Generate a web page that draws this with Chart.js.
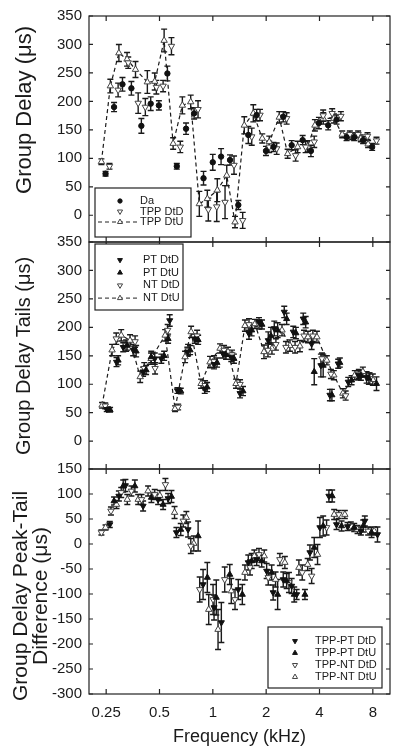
<!DOCTYPE html>
<html lang="en">
<head>
  <meta charset="UTF-8">
  <title>Group Delay</title>
  <script src="https://cdn.jsdelivr.net/npm/chart.js"></script>
  <style>
    body { margin: 0; background: #fff; }
    #wrap { position: relative; width: 400px; height: 756px; }
    #wrap canvas { position: absolute; left: 0; top: 0; }
  </style>
</head>
<body>
  <div id="wrap">
    <canvas id="c1" width="400" height="756"></canvas>
    <canvas id="c2" width="400" height="756"></canvas>
    <canvas id="c3" width="400" height="756"></canvas>
  </div>
  <script>
    // frequency ticks (kHz) and y ticks
    const freqTicks = [0.25, 0.5, 1, 2, 4, 8];
    const p1Ticks = [0, 50, 100, 150, 200, 250, 300, 350];
    const p2Ticks = [0, 50, 100, 150, 200, 250, 300, 350];
    const p3Ticks = [-300, -250, -200, -150, -100, -50, 0, 50, 100, 150];

    // panel 1: group delay
    const p1DaFreq = [0.248,0.277,0.309,0.347,0.395,0.446,0.496,0.554,0.626,0.706,0.784,0.886,0.999,1.113,1.25,1.393,1.586,1.768,1.995,2.2,2.497,2.786,3.213,3.578,3.97,4.478,4.995,5.687,6.275,7.05,7.93];
    const p1DaVal = [73,190,230,223,157,196,193,249,86,152,179,65,93,103,97,18,141,176,113,120,173,123,132,113,162,158,168,137,137,132,120];
    const p1DaErr = [4,8,12,12,13,12,8,13,5,10,10,12,14,14,9,8,15,10,8,8,9,8,8,10,10,8,8,6,6,6,6];

    const p1DtdFreq = [0.261,0.292,0.333,0.379,0.416,0.480,0.524,0.584,0.655,0.825,0.943,1.052,1.172,1.317,1.474,1.658,1.846,2.08,2.293,2.61,2.933,3.34,3.735,4.196,4.717,5.282,5.935,6.609,7.467,8.39];
    const p1DtdVal = [86,220,268,197,190,225,227,297,120,186,10,15,23,88,-9,138,176,120,117,170,105,120,129,175,179,174,142,142,139,131];
    const p1DtdErr = [5,12,10,18,15,12,10,15,10,15,20,26,29,16,14,15,10,10,10,10,10,10,10,10,8,8,6,6,6,6];

    const p1DtuFreq = [0.235,0.264,0.295,0.328,0.366,0.427,0.470,0.531,0.597,0.673,0.750,0.839,0.931,1.06,1.198,1.334,1.505,1.692,1.901,2.082,2.371,2.644,3.01,3.428,3.769,4.2,4.823,5.372,6.114,6.843,7.524];
    const p1DtuVal = [94,227,285,274,256,234,235,307,126,193,199,20,29,44,70,-12,158,179,135,129,172,108,120,121,158,170,170,142,139,135,125];
    const p1DtuErr = [5,12,15,12,14,20,15,20,10,15,12,22,15,20,18,10,15,15,8,10,10,8,10,10,10,10,8,6,6,6,6];

    // panel 2: tails
    const p2PtdFreq = [0.252,0.286,0.312,0.355,0.404,0.470,0.512,0.571,0.631,0.718,0.791,0.900,1.016,1.141,1.271,1.424,1.600,1.822,2.055,2.222,2.530,2.844,3.238,3.612,4.073,4.58,5.10,5.81,6.63,7.38];
    const p2PtdVal = [56,139,165,160,122,145,145,212,89,157,180,92,135,154,148,84,189,209,177,198,227,192,215,171,133,81,136,104,116,112];
    const p2PtdErr = [4,8,8,10,8,10,8,10,5,8,8,8,8,8,8,8,10,8,15,13,10,10,10,10,20,10,8,8,8,10];

    const p2PtuFreq = [0.263,0.292,0.328,0.369,0.420,0.449,0.531,0.559,0.659,0.744,0.826,0.928,1.056,1.187,1.316,1.480,1.657,1.894,2.128,2.322,2.61,2.944,3.342,3.736,4.196,4.70,5.21,6.07,6.85,7.60,8.39];
    const p2PtuVal = [55,142,168,158,125,148,150,180,88,160,178,95,138,152,145,88,195,205,185,195,215,190,209,122,133,81,138,107,115,110,101];
    const p2PtuErr = [4,8,8,10,8,10,8,8,5,8,8,8,8,8,8,8,10,8,15,13,10,10,10,23,20,10,8,8,8,10,12];

    const p2NtdFreq = [0.247,0.285,0.324,0.364,0.410,0.472,0.556,0.637,0.725,0.815,0.904,1.016,1.157,1.283,1.424,1.600,1.822,2.047,2.270,2.586,2.912,3.27,3.67,4.13,4.64,5.62,6.67,7.68];
    const p2NtdVal = [62,180,168,175,128,128,195,60,160,185,98,140,160,152,100,205,205,160,170,165,165,185,185,145,118,80,118,110];
    const p2NtdErr = [5,10,10,10,10,10,10,5,10,10,8,10,8,8,8,10,8,12,10,10,10,10,10,10,8,8,8,10];

    const p2NtuFreq = [0.237,0.270,0.304,0.341,0.389,0.448,0.538,0.612,0.697,0.754,0.858,0.964,1.098,1.218,1.351,1.518,1.729,1.944,2.156,2.457,2.724,3.102,3.44,3.868,4.40,4.82,5.42,6.33,7.03,8.0];
    const p2NtuVal = [63,160,186,177,113,145,186,57,148,192,101,139,163,157,101,203,206,157,163,195,168,167,183,183,142,116,84,116,122,108];
    const p2NtuErr = [5,10,10,10,10,10,10,5,10,10,8,10,8,8,8,10,8,12,10,10,10,10,10,10,8,8,8,8,8,10];

    // panel 3: peak-tail difference
    const p3PtdFreq = [0.262,0.295,0.321,0.404,0.491,0.559,0.623,0.725,0.881,1.016,1.117,1.392,1.585,1.768,2.013,2.19,2.497,2.785,2.972,3.532,4.02,4.52,4.99,5.76,6.85,7.21,8.50];
    const p3PtdVal = [39,96,117,76,89,91,23,29,-81,-127,-157,-91,-37,-31,-54,-97,-71,-84,-101,-17,33,96,39,35,26,46,19];
    const p3PtdErr = [6,10,12,10,10,10,10,15,30,25,40,20,15,12,15,15,15,15,10,15,20,12,10,8,8,10,15];

    const p3PtuFreq = [0.277,0.312,0.363,0.450,0.524,0.584,0.659,0.826,0.931,1.046,1.246,1.467,1.657,1.887,2.148,2.322,2.61,2.88,3.31,3.736,4.196,4.716,5.33,6.28,7.06,7.87];
    const p3PtuVal = [86,116,116,93,79,95,29,16,-67,-107,-61,-101,-34,-34,-57,-101,-74,-101,-101,-7,36,96,36,33,36,23];
    const p3PtuErr = [8,12,12,10,10,12,12,30,30,35,20,20,15,12,15,30,15,15,10,20,20,12,10,8,12,10];

    const p3NtdFreq = [0.235,0.266,0.304,0.347,0.396,0.470,0.540,0.681,0.751,0.843,1.003,1.167,1.334,1.621,1.822,2.055,2.39,2.69,3.196,3.612,4.385,5.14,6.01,7.53];
    const p3NtdVal = [23,66,103,106,89,99,119,46,-4,-91,-111,-71,-111,-47,-21,-67,-31,-77,-57,-64,33,59,36,26];
    const p3NtdErr = [5,8,10,10,10,10,12,12,15,25,30,25,20,15,12,15,12,20,15,15,15,8,8,8];

    const p3NtuFreq = [0.248,0.286,0.329,0.379,0.431,0.502,0.608,0.709,0.781,0.948,1.070,1.271,1.518,1.715,1.951,2.26,2.55,3.06,3.43,3.90,4.84,5.56,6.56,8.14];
    const p3NtuVal = [33,79,89,89,106,97,63,53,1,-131,-171,-94,-57,-24,-24,-71,-37,-47,-41,-21,59,59,29,26];
    const p3NtuErr = [5,8,10,10,10,10,12,12,15,30,40,25,15,12,12,15,12,15,12,20,10,8,8,8];

    const FONT = '"Liberation Sans", Arial, Helvetica, sans-serif';
    const INK = '#1a1a1a';
    Chart.defaults.font.family = FONT;
    Chart.defaults.color = INK;

    const marks = {
      dot:      { pointStyle: 'circle',   pointRadius: 2.7, pointRotation: 0,   pointBackgroundColor: '#111', pointBorderColor: '#111' },
      downFill: { pointStyle: 'triangle', pointRadius: 3.5, pointRotation: 180, pointBackgroundColor: '#111', pointBorderColor: '#111' },
      upFill:   { pointStyle: 'triangle', pointRadius: 3.5, pointRotation: 0,   pointBackgroundColor: '#111', pointBorderColor: '#111' },
      downOpen: { pointStyle: 'triangle', pointRadius: 3.7, pointRotation: 180, pointBackgroundColor: '#fff', pointBorderColor: '#444' },
      upOpen:   { pointStyle: 'triangle', pointRadius: 3.7, pointRotation: 0,   pointBackgroundColor: '#fff', pointBorderColor: '#444' }
    };

    function series(label, freq, val, err, mark, dashed) {
      return Object.assign({
        label: label,
        data: freq.map((f, i) => ({ x: f, y: val[i] })),
        err: err,
        pointBorderWidth: 1,
        showLine: !!dashed,
        borderColor: '#1a1a1a',
        borderWidth: 1.2,
        borderDash: [4, 3],
        fill: false
      }, marks[mark]);
    }

    const errorBars = {
      id: 'errorBars',
      beforeDatasetsDraw(chart) {
        const ctx = chart.ctx, y = chart.scales.y;
        ctx.save();
        ctx.strokeStyle = INK;
        ctx.lineWidth = 1.4;
        chart.data.datasets.forEach((ds, i) => {
          chart.getDatasetMeta(i).data.forEach((pt, j) => {
            const v = ds.data[j].y, e = ds.err[j];
            const top = y.getPixelForValue(v + e), bot = y.getPixelForValue(v - e);
            ctx.beginPath();
            ctx.moveTo(pt.x, top); ctx.lineTo(pt.x, bot);
            ctx.moveTo(pt.x - 3, top); ctx.lineTo(pt.x + 3, top);
            ctx.moveTo(pt.x - 3, bot); ctx.lineTo(pt.x + 3, bot);
            ctx.stroke();
          });
        });
        ctx.restore();
      }
    };

    const frame = {
      id: 'frame',
      afterDraw(chart, args, o) {
        const { ctx, chartArea: a, scales: { x, y } } = chart;
        ctx.save();
        ctx.strokeStyle = '#222';
        ctx.lineWidth = 1.2;
        ctx.strokeRect(a.left, a.top, a.right - a.left, a.bottom - a.top);
        ctx.beginPath();
        freqTicks.forEach(f => {
          const px = x.getPixelForValue(f);
          ctx.moveTo(px, a.top); ctx.lineTo(px, a.top + 5);
          ctx.moveTo(px, a.bottom); ctx.lineTo(px, a.bottom - 5);
        });
        o.yTicks.forEach(v => {
          const py = y.getPixelForValue(v);
          ctx.moveTo(a.left, py); ctx.lineTo(a.left + 4, py);
          ctx.moveTo(a.right, py); ctx.lineTo(a.right - 4, py);
        });
        ctx.stroke();
        ctx.restore();
      }
    };

    const boxLegend = {
      id: 'boxLegend',
      afterDraw(chart, args, o) {
        const { ctx, chartArea: a } = chart;
        const bx = o.fromRight ? a.right - o.dx : a.left + o.dx;
        const by = o.fromBottom ? a.bottom - o.dy : a.top + o.dy;
        ctx.save();
        ctx.fillStyle = '#fff';
        ctx.fillRect(bx, by, o.w, o.h);
        ctx.strokeStyle = '#222';
        ctx.lineWidth = 1.2;
        ctx.strokeRect(bx, by, o.w, o.h);
        ctx.font = '11px ' + FONT;
        ctx.textBaseline = 'middle';
        o.items.forEach((idx, k) => {
          const ds = chart.data.datasets[idx];
          const y = by + o.rowTop + k * o.rowGap;
          if (ds.showLine) {
            ctx.strokeStyle = '#222';
            ctx.lineWidth = 1;
            ctx.setLineDash([4, 3]);
            ctx.beginPath();
            ctx.moveTo(bx + o.lineFrom, y); ctx.lineTo(bx + o.lineTo, y);
            ctx.stroke();
            ctx.setLineDash([]);
          }
          ctx.fillStyle = ds.pointBackgroundColor;
          ctx.strokeStyle = ds.pointBorderColor;
          ctx.lineWidth = 1;
          Chart.helpers.drawPoint(ctx, {
            pointStyle: ds.pointStyle, rotation: ds.pointRotation,
            radius: ds.pointRadius * 0.8, borderWidth: 1
          }, bx + o.markX, y);
          ctx.fillStyle = INK;
          ctx.fillText(ds.label, bx + o.textX, y);
        });
        ctx.restore();
      }
    };

    const sideTitle = {
      id: 'sideTitle',
      afterDraw(chart, args, o) {
        const ctx = chart.ctx;
        ctx.save();
        ctx.font = o.size + 'px ' + FONT;
        ctx.fillStyle = INK;
        ctx.textAlign = 'center';
        ctx.textBaseline = 'middle';
        o.lines.forEach((t, i) => {
          ctx.save();
          ctx.translate(o.x[i], o.y);
          ctx.rotate(-Math.PI / 2);
          ctx.fillText(t, 0, 0);
          ctx.restore();
        });
        ctx.restore();
      }
    };

    function makePanel(id, p) {
      return new Chart(document.getElementById(id), {
        type: 'scatter',
        data: { datasets: p.datasets },
        options: {
          responsive: false,
          animation: false,
          devicePixelRatio: 1,
          layout: { padding: { top: p.top, bottom: p.bottom, left: 0, right: 10 } },
          plugins: {
            legend: { display: false },
            tooltip: { enabled: false },
            frame: { yTicks: p.yTicks },
            boxLegend: p.legend,
            sideTitle: p.title
          },
          scales: {
            x: {
              type: 'logarithmic',
              min: 0.2,
              max: 10,
              display: p.showX,
              grid: { display: false, drawTicks: false },
              border: { display: false },
              afterBuildTicks: s => { s.ticks = freqTicks.map(v => ({ value: v })); },
              afterFit: s => { s.height = p.showX ? 62 : 0; },
              ticks: { font: { size: 15 }, padding: 10, maxRotation: 0, autoSkip: false, callback: v => String(v) },
              title: { display: true, text: 'Frequency (kHz)', font: { size: 18 }, padding: { top: 0, bottom: 8 } }
            },
            y: {
              min: p.yMin,
              max: p.yMax,
              grid: { display: false, drawTicks: false },
              border: { display: false },
              afterBuildTicks: s => { s.ticks = p.yTicks.map(v => ({ value: v })); },
              afterFit: s => { s.width = 89; },
              ticks: { font: { size: 15 }, padding: 7, autoSkip: false }
            }
          }
        },
        plugins: [errorBars, frame, boxLegend, sideTitle]
      });
    }

    makePanel('c1', {
      top: 16, bottom: 514, showX: false, yMin: -47, yMax: 350, yTicks: p1Ticks,
      datasets: [
        series('Da', p1DaFreq, p1DaVal, p1DaErr, 'dot'),
        series('TPP DtD', p1DtdFreq, p1DtdVal, p1DtdErr, 'downOpen'),
        series('TPP DtU', p1DtuFreq, p1DtuVal, p1DtuErr, 'upOpen', true)
      ],
      legend: { items: [0, 1, 2], fromBottom: true, dx: 6, dy: 54, w: 96, h: 49, rowTop: 13, rowGap: 10.5, markX: 25, textX: 45, lineFrom: 3, lineTo: 42 },
      title: { lines: ['Group Delay (μs)'], x: [25], y: 110, size: 22 }
    });

    makePanel('c2', {
      top: 242, bottom: 287, showX: false, yMin: -49, yMax: 350, yTicks: p2Ticks,
      datasets: [
        series('PT DtD', p2PtdFreq, p2PtdVal, p2PtdErr, 'downFill'),
        series('PT DtU', p2PtuFreq, p2PtuVal, p2PtuErr, 'upFill'),
        series('NT DtD', p2NtdFreq, p2NtdVal, p2NtdErr, 'downOpen'),
        series('NT DtU', p2NtuFreq, p2NtuVal, p2NtuErr, 'upOpen', true)
      ],
      legend: { items: [0, 1, 2, 3], dx: 6, dy: 2, w: 88, h: 66, rowTop: 16, rowGap: 12.7, markX: 25, textX: 48, lineFrom: 3, lineTo: 43 },
      title: { lines: ['Group Delay Tails (μs)'], x: [24], y: 356, size: 20 }
    });

    makePanel('c3', {
      top: 469, bottom: 0, showX: true, yMin: -300, yMax: 150, yTicks: p3Ticks,
      datasets: [
        series('TPP-PT DtD', p3PtdFreq, p3PtdVal, p3PtdErr, 'downFill'),
        series('TPP-PT DtU', p3PtuFreq, p3PtuVal, p3PtuErr, 'upFill'),
        series('TPP-NT DtD', p3NtdFreq, p3NtdVal, p3NtdErr, 'downOpen'),
        series('TPP-NT DtU', p3NtuFreq, p3NtuVal, p3NtuErr, 'upOpen')
      ],
      legend: { items: [0, 1, 2, 3], fromRight: true, fromBottom: true, dx: 122, dy: 67, w: 114, h: 61, rowTop: 14, rowGap: 12, markX: 27, textX: 47 },
      title: { lines: ['Group Delay Peak-Tail', 'Difference (μs)'], x: [21, 41], y: 596, size: 21 }
    });
  </script>
</body>
</html>
